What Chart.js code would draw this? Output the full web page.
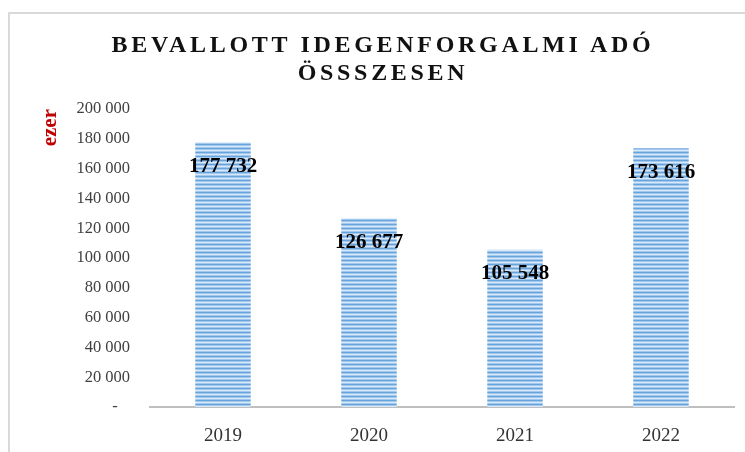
<!DOCTYPE html>
<html>
<head>
<meta charset="utf-8">
<script src="https://cdn.jsdelivr.net/npm/chart.js@4"></script>
<style>
  html, body { margin: 0; padding: 0; background: #fff; }
  #wrap { position: relative; width: 745px; height: 452px; overflow: hidden; }
  #frame { position: absolute; left: 8px; top: 12px; width: 760px; height: 460px;
           border: 2px solid #d9d9d9; box-sizing: border-box; }
  #title { position: absolute; left: 8px; top: 30px; width: 750px; text-align: center;
           font-family: "Liberation Serif", serif; font-weight: bold; font-size: 24px;
           letter-spacing: 3.7px; line-height: 28px; color: #111; }
  canvas { position: absolute; left: 0; top: 0; }
</style>
</head>
<body>
<div id="wrap">
  <div id="frame"></div>
  <canvas id="myChart"></canvas>
  <div id="title">BEVALLOTT IDEGENFORGALMI ADÓ<br>ÖSSSZESEN</div>
</div>
<script>
const years = ['2019', '2020', '2021', '2022'];
const totals = [177732, 126677, 105548, 173616];
const yTicks = { min: 0, max: 200000, step: 20000 };

function fmt(v) {
  return String(v).replace(/\B(?=(\d{3})+(?!\d))/g, ' ');
}

// striped fill like the original bars
function stripes() {
  const c = document.createElement('canvas');
  c.width = 1; c.height = 4;
  const g = c.getContext('2d');
  const rows = ['#68a4dc', '#a2c8ee', '#d9e9f8', '#a2c8ee'];
  rows.forEach((col, i) => { g.fillStyle = col; g.fillRect(0, i, 1, 1); });
  return g.createPattern(c, 'repeat');
}

const valueLabels = {
  id: 'valueLabels',
  afterDatasetsDraw(chart) {
    const ctx = chart.ctx;
    const meta = chart.getDatasetMeta(0);
    ctx.save();
    ctx.font = 'bold 21px "Liberation Serif", serif';
    ctx.fillStyle = '#000';
    ctx.textAlign = 'center';
    ctx.textBaseline = 'middle';
    meta.data.forEach((bar, i) => {
      ctx.fillText(fmt(totals[i]), bar.x, bar.y + 24);
    });
    ctx.restore();
  }
};

var ctx = document.getElementById('myChart').getContext('2d');
ctx.canvas.width = 745;
ctx.canvas.height = 452;

const graphData = {
  labels: years,
  datasets: [{
    data: totals,
    backgroundColor: stripes(),
    borderWidth: 0,
    barPercentage: 0.38,
    categoryPercentage: 1
  }]
};

const config = {
  type: 'bar',
  data: graphData,
  plugins: [valueLabels],
  options: {
    responsive: false,
    animation: false,
    layout: { padding: { left: 38, top: 109, right: 11, bottom: 0 } },
    plugins: {
      legend: { display: false },
      tooltip: { enabled: false },
      title: { display: false }
    },
    scales: {
      x: {
        grid: { display: false, drawTicks: false },
        border: { display: true, color: '#bfbfbf', width: 2 },
        ticks: {
          color: '#333',
          padding: 18,
          font: { family: '"Liberation Serif", serif', size: 19 }
        },
        afterFit(scale) { scale.height = 45; }
      },
      y: {
        min: yTicks.min,
        max: yTicks.max,
        grid: { display: false, drawTicks: false },
        border: { display: false },
        title: {
          display: true,
          text: 'ezer',
          align: 'end',
          color: '#c00000',
          padding: { top: 0, bottom: 0 },
          font: { family: '"Liberation Serif", serif', size: 21, weight: 'bold' }
        },
        ticks: {
          stepSize: yTicks.step,
          color: '#404040',
          padding: 20,
          font: { family: '"Liberation Serif", serif', size: 16.5 },
          callback: (v) => v === 0 ? '-   ' : fmt(v)
        },
        afterFit(scale) { scale.width = 112; }
      }
    }
  }
};

var myChart = new Chart(ctx, config);
</script>
</body>
</html>
